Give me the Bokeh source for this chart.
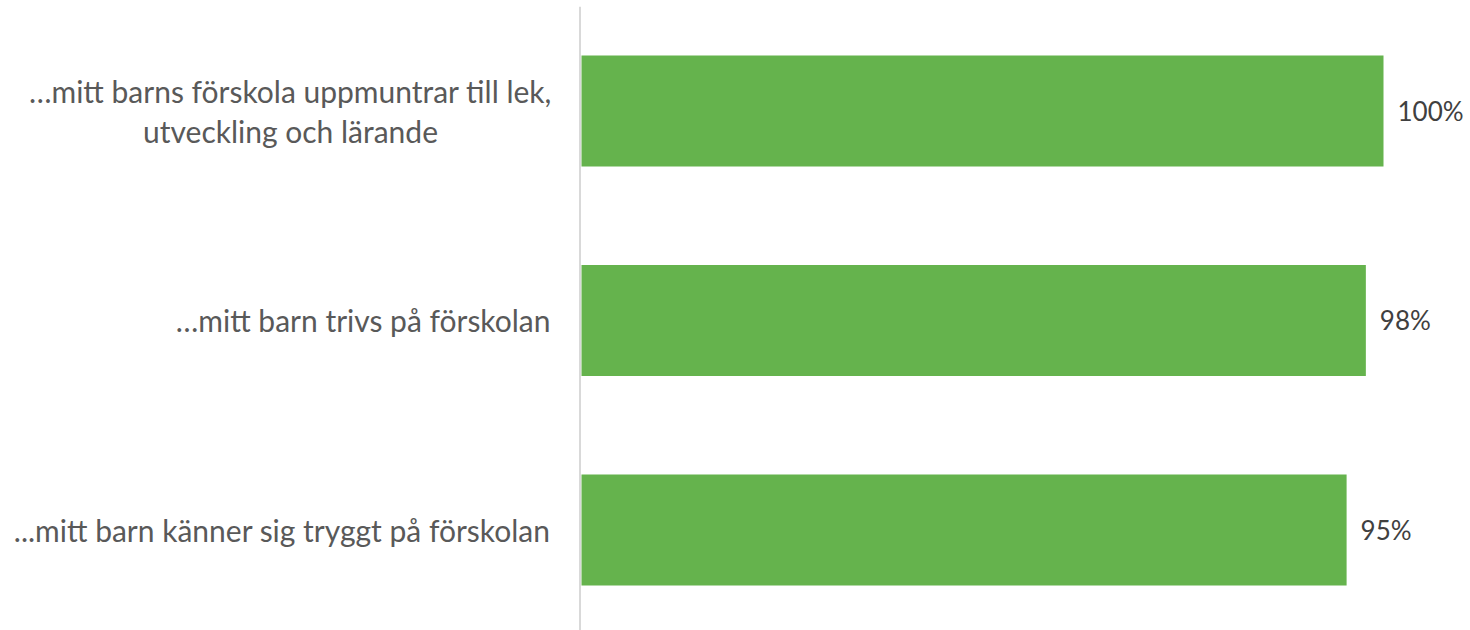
from bokeh.plotting import figure
from bokeh.layouts import row
from bokeh.models import ColumnDataSource, Range1d, LabelSet, Span
from bokeh.core.properties import value
from bokeh.embed import file_html
from bokeh.resources import INLINE

categories = [
    "…mitt barns förskola uppmuntrar till lek,\nutveckling och lärande",
    "…mitt barn trivs på förskolan",
    "...mitt barn känner sig tryggt på förskolan",
]
values = [100.0, 97.8, 95.4]
value_labels = ["100%", "98%", "95%"]

positions = list(range(len(categories)))
src = ColumnDataSource(dict(y=positions, v=values, lab=value_labels))

FONT = "Lato"
PX_PER_UNIT = 802 / 100.0
LEFT_W = 578
RIGHT_W = 1470 - LEFT_W
H = 630

y_range = Range1d(2.480, -0.499)


def clean(fig):
    fig.xaxis.visible = False
    fig.yaxis.visible = False
    fig.xgrid.visible = False
    fig.ygrid.visible = False
    fig.outline_line_color = None


# ---- left panel: category labels ----
left = figure(width=LEFT_W, height=H, output_backend="svg", toolbar_location=None,
              x_range=Range1d(0, LEFT_W), y_range=y_range,
              min_border_left=0, min_border_right=0, min_border_top=6, min_border_bottom=0)
clean(left)
single = [i for i, c in enumerate(categories) if "\n" not in c]
multi = [i for i, c in enumerate(categories) if "\n" in c]
common = dict(text_baseline="middle", text_font=value(FONT), text_font_size="30px",
              text_color="#595959", text_line_height=1.12)
left.text(x=[550] * len(single), y=[positions[i] for i in single],
          text=[categories[i] for i in single], text_align="right", **common)
left.text(x=[290] * len(multi), y=[positions[i] for i in multi],
          text=[categories[i] for i in multi], text_align="center", **common)

# ---- right panel: bars ----
x0 = -3 / PX_PER_UNIT
p = figure(width=RIGHT_W, height=H, output_backend="svg", toolbar_location=None,
           x_range=Range1d(x0, x0 + RIGHT_W / PX_PER_UNIT), y_range=y_range,
           min_border_left=0, min_border_right=0, min_border_top=6, min_border_bottom=0)
clean(p)
p.add_layout(Span(location=-1.5 / PX_PER_UNIT, dimension="height",
                  line_color="#d9d9d9", line_width=2))
p.hbar(y="y", right="v", left=0, height=0.53, source=src, color="#65b34d", line_color=None)
p.add_layout(LabelSet(x="v", y="y", text="lab", source=src, x_offset=14, y_offset=0,
                      text_baseline="middle", text_align="left", text_font=value(FONT),
                      text_font_size="26px", text_color="#404040"))

layout = row(left, p, spacing=0)
open("out.html", "w").write(file_html(layout, INLINE))
